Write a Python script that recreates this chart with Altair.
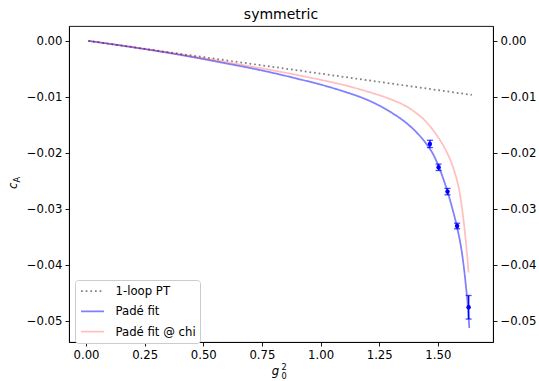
import altair as alt
import pandas as pd

# 1-loop perturbation theory: straight line in g0^2
pt_g2 = [0.010, 1.645]
pt_ca = [-0.00006, -0.0097]

# Padé fit to the non-perturbative data
pade_g2 = [0.010, 0.10, 0.20, 0.30, 0.40, 0.50, 0.60, 0.70, 0.80, 0.90,
           1.00, 1.10, 1.20, 1.25, 1.30, 1.35, 1.40, 1.45, 1.48, 1.50,
           1.52, 1.54, 1.56, 1.58, 1.60, 1.61, 1.62, 1.628, 1.634]
pade_ca = [-0.00006, -0.00058, -0.00120, -0.00185, -0.00255, -0.00330,
           -0.00410, -0.00490, -0.00580, -0.00680, -0.00785, -0.00910,
           -0.01060, -0.01160, -0.01280, -0.01420, -0.01600, -0.01840,
           -0.02030, -0.02210, -0.02430, -0.02680, -0.02970, -0.03300,
           -0.03720, -0.04020, -0.04400, -0.04750, -0.05130]

# Padé fit evaluated at chi
chi_g2 = [0.010, 0.10, 0.20, 0.30, 0.40, 0.50, 0.60, 0.70, 0.80, 0.90,
          1.00, 1.10, 1.20, 1.30, 1.35, 1.40, 1.45, 1.50, 1.54, 1.57,
          1.59, 1.60, 1.61, 1.62, 1.631]
chi_ca = [-0.00006, -0.00057, -0.00117, -0.00180, -0.00245, -0.00315,
          -0.00385, -0.00460, -0.00535, -0.00615, -0.00700, -0.00795,
          -0.00910, -0.01050, -0.01140, -0.01270, -0.01450, -0.01720,
          -0.02010, -0.02330, -0.02650, -0.02900, -0.03230, -0.03620,
          -0.04140]

# Non-perturbative determinations with errors
lat_g2 = [1.466, 1.503, 1.541, 1.582, 1.631]
lat_ca = [-0.01845, -0.02262, -0.02696, -0.0331, -0.0476]
lat_err = [0.00065, 0.00057, 0.00057, 0.0005, 0.0021]

series_names = ["1-loop PT", "Padé fit", "Padé fit @ chi"]
series_colors = ["#808080", "rgba(0,0,255,0.5)", "rgba(255,0,0,0.25)"]
series_dash = [[1.75, 2.9], [1, 0], [1, 0]]
series_width = [1.75, 1.75, 1.4]

x_ticks = [0.0, 0.25, 0.5, 0.75, 1.0, 1.25, 1.5]
y_ticks = [0.0, -0.01, -0.02, -0.03, -0.04, -0.05]

FONT = "DejaVu Sans"

lines_df = pd.concat([
    pd.DataFrame({"g2": pt_g2, "ca": pt_ca, "series": series_names[0]}),
    pd.DataFrame({"g2": pade_g2, "ca": pade_ca, "series": series_names[1]}),
    pd.DataFrame({"g2": chi_g2, "ca": chi_ca, "series": series_names[2]}),
], ignore_index=True)

lat_df = pd.DataFrame({"g2": lat_g2, "ca": lat_ca, "err": lat_err})

x_scale = alt.Scale(domain=[-0.0725, 1.735], nice=False, zero=False)
y_scale = alt.Scale(domain=[-0.0538, 0.0026], nice=False, zero=False)

x_axis = alt.Axis(values=x_ticks, format=".2f", title=None, grid=False)
y_axis_left = alt.Axis(values=y_ticks, format=".2f", title=None, grid=False, orient="left")
y_axis_right = alt.Axis(values=y_ticks, format=".2f", title=None, grid=False, orient="right")

# legend handles: a horizontal stroke twice as long as the symbol box
legend = alt.Legend(
    title=None, orient="none", legendX=6, legendY=254,
    symbolType="M-2,0H2", symbolSize=132, symbolStrokeWidth=1.75,
    symbolOffset=6.5,
    labelFont=FONT, labelFontSize=11.7, labelColor="black",
    fillColor="white", strokeColor="#cccccc", cornerRadius=3,
    padding=4, rowPadding=6.3, labelOffset=16,
)

X = alt.X("g2:Q", scale=x_scale, axis=x_axis)

lines = alt.Chart(lines_df).mark_line(interpolate="monotone").encode(
    x=X,
    y=alt.Y("ca:Q", scale=y_scale, axis=y_axis_left),
    color=alt.Color("series:N", scale=alt.Scale(domain=series_names, range=series_colors), legend=legend),
    strokeDash=alt.StrokeDash("series:N", scale=alt.Scale(domain=series_names, range=series_dash), legend=legend),
    strokeWidth=alt.StrokeWidth("series:N", scale=alt.Scale(domain=series_names, range=series_width), legend=None),
)

lat_base = alt.Chart(lat_df).transform_calculate(
    lo="datum.ca - datum.err", hi="datum.ca + datum.err"
)

err_rules = lat_base.mark_rule(color="#0000ff", strokeWidth=1.5).encode(
    x=X, y=alt.Y("lo:Q", scale=y_scale), y2="hi:Q"
)
cap_lo = lat_base.mark_tick(color="#0000ff", orient="horizontal", size=6, thickness=1.3).encode(
    x=X, y=alt.Y("lo:Q", scale=y_scale)
)
cap_hi = lat_base.mark_tick(color="#0000ff", orient="horizontal", size=6, thickness=1.3).encode(
    x=X, y=alt.Y("hi:Q", scale=y_scale)
)
points = alt.Chart(lat_df).mark_point(filled=True, color="#0000ff", size=20, opacity=1).encode(
    x=X, y=alt.Y("ca:Q", scale=y_scale)
)

# Title and axis titles (with sub/superscripts) composed from text pieces
one = pd.DataFrame({"k": [0]})


def label(txt, x, y, size, italic=False, angle=0, align="center"):
    return alt.Chart(one).mark_text(
        text=txt, font=FONT, fontSize=size, fontStyle="italic" if italic else "normal",
        align=align, baseline="alphabetic", angle=angle, color="black",
    ).encode(x=alt.value(x), y=alt.value(y))


title = label("symmetric", 212, -7, 14)
ylab_c = label("c", -52.3, 163, 11.7, italic=True, angle=270, align="left")
ylab_A = label("A", -49.3, 156.5, 8.2, angle=270, align="left")
xlab_g = label("g", 206.5, 348.5, 11.7, italic=True)
xlab_2 = label("2", 212.5, 344, 8.2, align="left")
xlab_0 = label("0", 212.5, 353.3, 8.2, align="left")

right_axis = alt.Chart(lat_df).mark_point(opacity=0).encode(
    x=X, y=alt.Y("ca:Q", scale=y_scale, axis=y_axis_right)
)

inner = alt.layer(lines, err_rules, cap_lo, cap_hi, points,
                  title, ylab_c, ylab_A, xlab_g, xlab_2, xlab_0)

chart = alt.layer(inner, right_axis).resolve_scale(y="independent").properties(
    width=424, height=316,
    padding={"left": 69, "top": 26, "right": 46, "bottom": 39},
    autosize="none",
).configure_view(
    stroke="black", strokeWidth=0.9
).configure_axis(
    labelFont=FONT, labelFontSize=11.7, labelColor="black",
    tickColor="black", domainColor="black", tickSize=4, tickWidth=0.9,
    domainWidth=0.9, labelPadding=3,
)

chart.save("out.html", embed_options={"renderer": "svg", "actions": False})
